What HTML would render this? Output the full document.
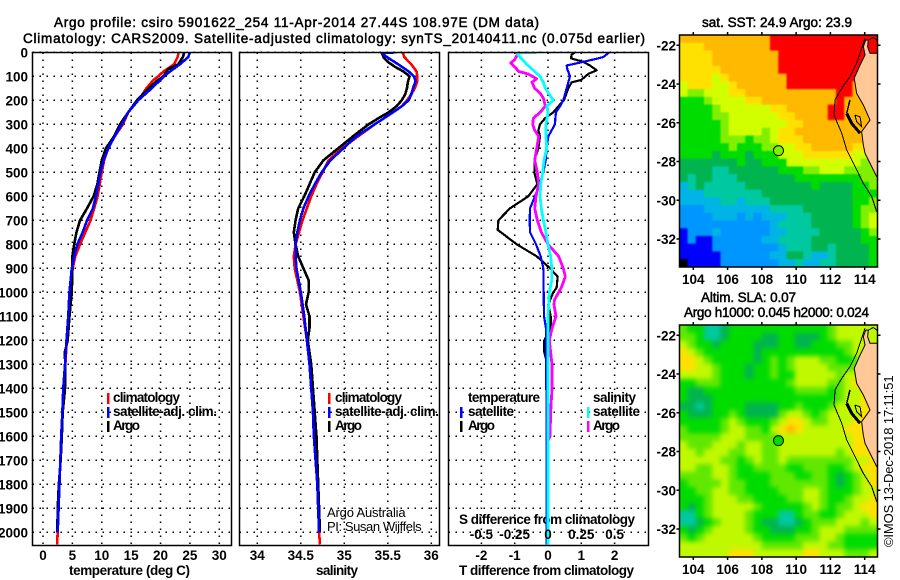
<!DOCTYPE html>
<html lang="en">
<head>
<meta charset="utf-8">
<title>Argo profile csiro 5901622_254</title>
<style>
html,body{margin:0;padding:0;background:#fff;}
svg{display:block;}
text{font-family:"Liberation Sans",sans-serif;fill:#000;}
.t{font-size:13.5px;font-weight:400;stroke:#000;stroke-width:.5px;}
.b{font-size:13.5px;font-weight:700;}
.thin{font-size:13px;font-weight:400;letter-spacing:.4px;}
</style>
</head>
<body>
<svg id="chart" xmlns="http://www.w3.org/2000/svg" width="900" height="580" viewBox="0 0 900 580">
<defs>
<clipPath id="clip-temp"><rect x="32.5" y="52.5" width="199" height="493"/></clipPath>
<clipPath id="clip-sal"><rect x="239.5" y="52.5" width="200" height="493"/></clipPath>
<clipPath id="clip-diff"><rect x="448.5" y="52.5" width="200" height="493"/></clipPath>
<clipPath id="clip-map1"><rect x="679.5" y="35" width="198" height="232"/></clipPath>
<clipPath id="clip-map2"><rect x="679.5" y="325" width="198" height="232"/></clipPath>
<filter id="blur-sst" filterUnits="userSpaceOnUse" x="640" y="0" width="260" height="300" color-interpolation-filters="sRGB"><feGaussianBlur stdDeviation="0.8"/></filter>
<filter id="blur-sla" filterUnits="userSpaceOnUse" x="640" y="290" width="260" height="290" color-interpolation-filters="sRGB"><feGaussianBlur stdDeviation="2.5"/></filter>
</defs>
<rect x="0" y="0" width="900" height="580" fill="#fff"/>
<text class="t" x="54" y="27" textLength="485">Argo profile: csiro 5901622_254 11-Apr-2014 27.44S 108.97E (DM data)</text>
<text class="t" x="23" y="43" textLength="622">Climatology: CARS2009. Satellite-adjusted climatology: synTS_20140411.nc (0.075d earlier)</text>
<text class="t" x="702" y="27" textLength="150">sat. SST: 24.9 Argo: 23.9</text>
<text class="t" x="701" y="302" textLength="95">Altim. SLA: 0.07</text>
<text class="t" x="684" y="317" textLength="185">Argo h1000: 0.045 h2000: 0.024</text>
<text class="b" x="69" y="575" textLength="121">temperature (deg C)</text>
<text class="b" x="316" y="575" textLength="42">salinity</text>
<text class="b" x="459" y="575" textLength="175">T difference from climatology</text>
<text class="b" x="459" y="524" textLength="176">S difference from climatology</text>
<text class="thin" x="327" y="517" textLength="79">Argo Australia</text>
<text class="thin" x="327" y="531" textLength="95">PI: Susan Wijffels</text>
<text class="thin" transform="translate(893,547) rotate(-90)" textLength="172">©IMOS 13-Dec-2018 17:11:51</text>
<g id="layer-maps"></g>
<g id="layer-panels"></g>
<g id="layer-legend"></g>
</svg>
<script>
// ---- profile data -------------------------------------------------------
const depthTicks = [0,100,200,300,400,500,600,700,800,900,1000,1100,1200,1300,1400,1500,1600,1700,1800,1900,2000];
const tempTicks = [0,5,10,15,20,25,30];
const salTicks = [34,34.5,35,35.5,36];
const salTickLabels = ['34','34.5','35','35.5','36'];
const diffTTicks = [-2,-1,0,1,2];
const diffSTicks = [-0.5,-0.25,0,0.25,0.5];
const diffSTickLabels = ['-0.5','-0.25','0','0.25','0.5'];

const tempClimDepth = [0,20,50,80,100,115,150,200,250,300,350,400,450,500,600,650,700,750,800,850,900,1000,1100,1200,1300,1400,1500,1600,1700,1800,1900,2000,2050];
const tempClim = [23.1,22.9,22.3,20.5,19.6,18.8,17.6,16.2,14.5,13.6,12.2,11.1,10.4,10,9.3,8.7,8.1,7.2,6.3,5.5,5.05,4.6,4.3,4.05,3.8,3.45,3.3,3.15,2.95,2.8,2.65,2.5,2.4];
const tempSatDepth = [0,20,50,80,100,150,200,250,300,350,400,450,500,600,650,700,750,800,850,900,1000,1100,1200,1300,1400,1500,1600,1700,1800,1900,2000];
const tempSat = [25,24.7,23.3,21.6,20.6,18.5,16.2,14.5,13.4,12.2,11.1,10.3,9.8,9,8.5,7.5,6.75,5.85,5.3,4.9,4.5,4.3,4,3.75,3.45,3.3,3.1,2.95,2.8,2.65,2.5];
const tempArgoDepth = [0,20,50,70,100,120,150,200,250,300,350,400,450,500,550,600,650,700,750,800,850,900,1000,1100,1200,1250,1300,1400,1500,1600,1700,1800,1900,2000];
const tempArgo = [24.05,23.8,23,21.3,20.5,19.3,18,16,14.5,13.1,12.1,10.7,10,9.6,9.25,8.6,7.5,6.3,5.7,5.3,5,5,4.9,4.5,4.2,3.7,3.8,3.75,3.35,3.2,3,2.7,2.5,2.45];

const salClimDepth = [0,20,50,80,100,120,150,175,200,225,250,300,350,400,450,500,550,600,650,700,750,800,850,900,1000,1100,1200,1300,1400,1500,1600,1700,1800,1900,2000,2050];
const salClim = [35.67,35.69,35.77,35.83,35.84,35.84,35.81,35.77,35.72,35.66,35.56,35.35,35.16,34.97,34.82,34.75,34.68,34.62,34.57,34.52,34.48,34.44,34.42,34.43,34.49,34.53,34.57,34.6,34.62,34.64,34.65,34.67,34.69,34.7,34.71,34.72];
const salSatDepth = [0,3,20,50,80,100,120,150,175,200,225,250,300,350,400,450,500,550,600,650,700,750,800,850,900,1000,1100,1200,1300,1400,1500,1600,1700,1800,1900,2000];
const salSat = [35.6,35.43,35.49,35.62,35.74,35.8,35.82,35.79,35.77,35.74,35.66,35.56,35.35,35.14,34.99,34.84,34.74,34.66,34.59,34.53,34.49,34.46,34.44,34.44,34.45,34.5,34.54,34.57,34.6,34.62,34.64,34.65,34.67,34.69,34.7,34.71];
const salArgoDepth = [0,20,40,60,80,100,125,150,175,200,225,250,275,300,350,400,450,500,550,600,650,700,750,800,850,900,950,1000,1050,1100,1150,1200,1300,1400,1500,1600,1700,1800,1900,2000];
const salArgo = [35.43,35.45,35.5,35.58,35.68,35.75,35.73,35.72,35.7,35.66,35.6,35.51,35.39,35.28,35.1,34.93,34.76,34.66,34.6,34.54,34.47,34.44,34.42,34.44,34.47,34.53,34.59,34.59,34.56,34.6,34.6,34.58,34.62,34.64,34.66,34.68,34.69,34.7,34.71,34.72];

const diffTSatDepth = [0,20,40,55,70,100,125,150,200,225,250,275,300,325,350,400,450,500,550,600,650,700,750,800,850,900,1000,1100,1150,1300,1500,2050];
const diffTSat = [1.84,1.66,1.06,.56,.58,.66,.61,.56,.46,.36,.24,.22,.21,.11,.01,-.04,-.07,-.14,-.26,-.39,-.54,-.55,-.54,-.36,-.22,-.14,-.13,-.12,-.06,-.06,-.04,-.04];
const diffTArgoDepth = [0,10,25,40,55,75,90,115,125,150,200,225,250,275,300,325,350,400,450,500,550,600,650,700,740,800,850,900,935,980,1000,1050,1100,1150,1200,1250,1300,1400,1500,1600,2000];
const diffTArgo = [.81,.71,.69,1.06,1.26,1.46,1.21,1,.71,.61,.48,.31,.16,-.09,-.24,-.29,-.24,-.29,-.41,-.41,-.32,-.59,-1.14,-1.49,-1.51,-.94,-.34,.06,.29,.26,.16,.01,.08,.08,-.11,-.11,-.02,.01,.01,-.03,-.03];
const diffSArgoDepth = [0,20,30,45,60,80,90,110,125,150,170,190,225,250,275,300,325,350,400,450,500,550,600,650,700,750,800,850,900,935,980,1030,1050,1100,1150,1200,1300,1400,1500,1600,1620];
const diffSArgo = [-.22,-.24,-.25,-.28,-.25,-.22,-.15,-.085,-.12,-.1,-.06,-.035,-.02,-.06,-.11,-.115,-.1,-.07,-.085,-.1,-.08,-.07,-.09,-.1,-.08,-.05,0,.08,.115,.13,.1,.05,.045,.06,.03,.01,.03,.03,.02,.015,0];
const diffSSatDepth = [0,3,20,50,100,125,150,200,225,250,300,350,400,450,500,550,600,650,700,750,800,850,900,950,1000,1100,1200,2050];
const diffSSat = [-.08,-.235,-.21,-.16,-.06,-.035,-.02,.04,-.01,0,-.015,-.015,-.01,-.03,-.04,-.055,-.06,-.05,-.035,-.015,0,.02,.028,.028,.01,0,0,0];

// ---- map data: colour level of each grid cell, north to south, west to east
const mapLonTicks = [104,106,108,110,112,114];
const mapLatTicks = [-22,-24,-26,-28,-30,-32];
const sstLevels = [
[10,10,10,10,10,10,10,10,10,10,10,11,11,11,11,11,11,11,11,11,11,11,11,11],
[9,9,9,10,10,10,10,10,10,10,10,11,11,11,11,11,11,11,11,11,11,11,11,11],
[9,9,9,9,10,10,10,10,10,10,10,10,11,11,11,11,11,11,11,11,11,11,11,11],
[9,9,9,9,10,10,10,10,10,10,10,10,11,11,11,11,11,11,11,11,11,11,11,11],
[9,9,9,9,9,10,10,10,10,10,10,10,11,11,11,11,11,11,11,11,11,11,11,11],
[9,9,9,9,8,9,10,10,10,10,10,10,10,11,11,11,11,11,11,11,11,11,11,11],
[8,9,9,9,8,8,9,10,10,10,10,10,10,11,11,11,11,11,11,11,11,10,10,10],
[8,7,7,8,8,8,9,9,10,10,10,10,10,10,10,10,10,10,10,11,11,10,10,10],
[6,6,6,7,8,8,8,8,9,9,10,10,10,10,10,10,10,10,10,11,10,10,10,10],
[6,6,6,6,7,8,8,8,8,8,8,9,9,10,10,10,10,10,11,11,10,10,10,10],
[6,6,6,6,7,7,8,8,8,8,8,8,9,9,10,10,10,10,11,11,10,10,10,10],
[6,6,6,6,6,7,8,8,8,8,8,8,8,9,9,10,10,10,10,10,10,10,10,10],
[6,6,6,6,6,7,8,8,8,8,7,8,9,9,10,10,10,10,10,10,10,10,10,10],
[6,6,6,6,6,7,7,7,6,7,7,8,9,9,9,10,10,10,10,10,10,10,10,10],
[6,6,6,6,6,6,7,6,6,6,7,7,8,8,9,9,10,10,10,10,10,9,9,9],
[6,6,6,6,5,6,6,6,5,6,6,6,8,8,8,9,9,9,9,9,9,8,8,8],
[5,5,5,5,5,5,5,6,5,5,6,6,6,8,8,8,8,8,8,8,8,8,7,7],
[5,5,5,5,4,4,5,5,5,5,5,5,6,6,6,7,7,8,8,8,7,7,7,7],
[5,4,5,5,4,4,4,5,5,5,5,5,5,5,6,6,6,6,6,6,6,6,7,7],
[3,4,5,4,4,4,4,4,5,5,5,5,5,5,5,5,6,5,5,5,5,6,6,7],
[3,3,3,4,4,4,4,4,4,4,5,5,5,5,5,5,5,5,5,5,5,6,6,6],
[3,3,3,3,3,4,4,3,4,4,4,5,5,5,5,5,5,5,5,5,5,6,6,7],
[2,2,2,3,3,3,3,3,3,3,3,4,4,4,4,5,5,5,5,5,5,6,7,7],
[2,2,2,2,3,3,3,2,3,2,3,3,3,4,4,4,5,5,5,5,5,6,7,8],
[2,2,2,2,2,2,2,2,2,2,2,3,4,4,4,4,5,5,5,5,5,6,7,8],
[1,2,2,2,3,2,2,2,2,2,2,3,3,4,4,4,4,5,5,5,5,5,6,7],
[1,2,1,1,2,2,2,2,2,2,3,3,4,4,4,4,5,5,5,5,5,5,6,6],
[1,1,1,1,2,2,2,2,2,2,2,2,3,4,4,4,5,5,4,5,5,5,5,6],
[1,1,1,1,1,2,2,2,2,2,2,3,3,5,5,4,3,3,4,5,5,5,5,6],
[0,1,1,1,1,2,2,2,2,2,2,2,3,3,4,3,3,4,4,5,5,5,5,6]
];
const slaLevels = [
[7,6,6,4,4,5,6,6,6,6,6,6,6,6,6,6,6,6,7,8,8,8,8,8],
[7,7,6,4,4,5,6,6,6,6,5,5,6,6,5,5,5,6,7,8,8,8,8,8],
[8,7,6,6,5,6,6,6,6,5,5,5,6,6,5,5,6,6,6,7,7,8,8,8],
[9,8,7,6,6,6,6,6,6,5,6,6,6,6,6,6,6,6,6,6,7,8,8,8],
[9,9,8,7,6,6,6,6,6,5,6,7,6,7,8,8,8,7,7,6,6,7,8,8],
[9,9,8,8,7,6,6,6,5,6,6,7,6,7,8,8,8,8,7,7,7,7,8,8],
[8,8,8,8,7,6,6,6,5,6,6,7,6,6,8,8,8,8,8,7,8,8,8,8],
[6,6,7,7,7,6,6,6,6,6,6,6,6,7,8,8,8,8,7,7,8,9,9,9],
[6,5,5,6,6,6,6,6,6,6,6,6,6,6,7,7,7,7,6,7,8,8,9,9],
[6,5,5,5,6,6,6,6,6,6,6,6,6,6,6,6,6,6,6,7,8,8,9,9],
[5,5,4,5,6,6,6,6,5,5,5,5,6,6,7,6,6,6,7,8,8,8,9,9],
[6,5,5,5,6,6,7,6,5,5,5,5,7,8,8,7,6,7,8,8,8,8,9,9],
[6,6,6,6,6,7,8,7,6,6,6,7,8,9,9,8,7,7,8,8,8,9,9,9],
[7,6,6,6,6,7,8,8,7,7,6,8,9,10,9,8,8,8,8,8,9,9,9,9],
[7,7,7,7,7,8,8,8,7,7,7,7,8,8,8,8,8,8,8,8,8,9,9,9],
[8,7,7,7,8,8,8,7,8,8,7,7,8,8,8,8,8,8,8,8,8,9,9,9],
[8,8,7,8,8,8,7,7,8,8,7,7,8,8,8,8,8,8,8,7,8,9,9,9],
[8,8,8,8,8,7,7,6,7,8,7,7,8,7,7,7,7,7,7,7,7,8,8,9],
[8,8,7,7,8,8,7,6,6,7,7,7,7,6,6,7,7,7,6,6,7,8,9,9],
[7,7,7,7,8,8,7,6,6,6,6,7,7,7,6,6,7,7,6,5,6,7,8,9],
[6,7,7,7,7,8,7,7,6,6,6,7,7,7,7,7,7,7,6,5,6,7,8,9],
[6,6,7,7,8,8,7,7,6,6,6,6,7,7,7,8,8,7,6,6,6,7,8,8],
[6,6,6,7,8,8,8,7,7,6,6,6,6,7,7,8,8,7,6,6,7,8,8,9],
[6,5,6,7,8,8,8,8,8,7,6,6,6,6,6,7,8,7,6,7,7,8,9,9],
[4,4,6,7,8,8,8,8,7,6,6,6,4,4,6,7,7,6,6,7,8,8,8,9],
[4,4,5,6,7,8,8,8,7,6,5,5,4,4,5,6,7,7,7,8,8,8,7,8],
[6,5,6,7,8,8,8,8,7,6,6,5,5,5,6,6,7,8,8,8,7,7,7,7],
[7,6,7,8,8,8,8,8,8,7,6,6,6,6,7,7,7,8,8,7,6,6,6,6],
[8,8,8,8,8,8,8,8,8,8,7,7,7,7,7,8,8,8,7,7,6,6,6,6],
[8,8,8,8,8,8,9,9,9,8,8,8,8,8,8,9,9,8,8,8,7,7,7,8]
];
const landLon = [114.89,114.31,114.17,114.21,114.06,113.92,114.02,113.73,113.39,113.53,113.92,114.31,113.82,113.92,114.02,114.31,114.70,114.89];
const landLat = [-22.41,-22.41,-22.07,-21.73,-21.73,-22.07,-22.5,-23.02,-23.7,-24.48,-25.08,-25.86,-26.46,-27.15,-27.58,-28.09,-28.78,-28.95];
const isobathLon = [114.02,113.73,113.53,113.14,112.66,112.27,112.21,112.66,112.95,113.34,113.92,114.41,114.70];
const isobathLat = [-21.64,-22.41,-22.93,-23.62,-24.22,-24.82,-25.60,-26.54,-27.40,-28.09,-29.13,-29.81,-30.59];
const bayShoreLon = [112.95,113.24,113.73];
const bayShoreLat = [-25.51,-26.03,-26.54];
const bayLoopLon = [113.43,113.73,113.82,113.53,113.43];
const bayLoopLat = [-25.60,-25.69,-26.20,-25.94,-25.60];
const bayBarLon = [113.14,112.95];
const bayBarLat = [-24.82,-25.51];
const capeLon = [114.21,114.5,114.74];
const capeLat = [-21.73,-21.6,-21.75];
const floatLon = [108.97];
const floatLat = [-27.44];

// ---- axis functions -----------------------------------------------------
const depthY = d => 52.3 + d * 0.24;
const tempX = v => 43 + v * 5.877;
const salX = v => 257.3 + (v - 34) * 87;
const diffTX = v => 548 + v * 33.3;
const diffSX = v => 548 + v * 133.2;
const lonX = v => 693.3 + (v - 104) * 17.14;
const latY = (v, top) => top + 10.3 + (-22 - v) * 19.37;
const sstColours = ['#000000','#0000ff','#0096ff','#00b4e6','#00c8a0','#00b450','#00dc00','#80f000','#d2ff00','#ffe100','#ffb900','#ff0000'];
const slaColours = ['#000000','#0000ff','#0096ff','#00b4e6','#00c8a0','#00b450','#00dc00','#60e800','#c0f800','#ffe100','#ffb900','#ff0000'];
const NS = 'http://www.w3.org/2000/svg';

function make(tag, attrs, parent, text) {
  const el = document.createElementNS(NS, tag);
  Object.keys(attrs).forEach(k => el.setAttribute(k, attrs[k]));
  if (text !== undefined) el.textContent = text;
  parent.appendChild(el);
  return el;
}
function pathFrom(xs, ys) {
  return xs.map((x, i) => (i ? 'L' : 'M') + x.toFixed(2) + ' ' + ys[i].toFixed(2)).join('');
}

const panels = document.getElementById('layer-panels');
const maps = document.getElementById('layer-maps');
const legendLayer = document.getElementById('layer-legend');

function drawPanel(key, left, width, clipId, xFn, ticks, labels, tickLabelY) {
  const g = make('g', {}, panels);
  
  
  depthTicks.forEach(d => {
    const line = make('line', {x1:left, x2:left + width, y1:depthY(d), y2:depthY(d), stroke:'#000', 'stroke-width':1.5, 'stroke-dasharray':'1.5 5.5'}, g);
    
    
  });
  ticks.forEach((t, i) => {
    const line = make('line', {x1:xFn(t), x2:xFn(t), y1:52.5, y2:545.5, stroke:'#000', 'stroke-width':1.5, 'stroke-dasharray':'1.5 5.5'}, g);
    
    
    const label = make('text', {x:xFn(t), y:tickLabelY, 'text-anchor':'middle', class:'b'}, g, labels[i]);
    
    
  });
  return g;
}
function drawFrame(g, key, left, width) {
  const frame = make('rect', {x:left, y:52.5, width:width, height:493, fill:'none', stroke:'#000', 'stroke-width':1.5}, g);
  
  
}
function drawSeries(g, name, clipId, depths, values, xFn, colour, width) {
  const p = make('path', {d:pathFrom(values.map(xFn), depths.map(depthY)), fill:'none', stroke:colour, 'stroke-width':width, 'stroke-linejoin':'round', 'shape-rendering':'crispEdges', 'clip-path':'url(#' + clipId + ')'}, g);
  
  
}

// temperature panel
const tempG = drawPanel('temperature', 32.5, 199, 'clip-temp', tempX, tempTicks, tempTicks.map(String), 560);
drawSeries(tempG, 'temperature-climatology-line', 'clip-temp', tempClimDepth, tempClim, tempX, '#ff0000', 2.6);
drawSeries(tempG, 'temperature-argo-line', 'clip-temp', tempArgoDepth, tempArgo, tempX, '#000000', 2.6);
drawSeries(tempG, 'temperature-satellite-line', 'clip-temp', tempSatDepth, tempSat, tempX, '#0000ff', 2.6);
drawFrame(tempG, 'temperature', 32.5, 199);
depthTicks.forEach(d => {
  const label = make('text', {x:28, y:depthY(d) + 5, 'text-anchor':'end', class:'b'}, tempG, String(d));
  
  
});

// salinity panel
const salG = drawPanel('salinity', 239.5, 200, 'clip-sal', salX, salTicks, salTickLabels, 560);
drawSeries(salG, 'salinity-climatology-line', 'clip-sal', salClimDepth, salClim, salX, '#ff0000', 2.6);
drawSeries(salG, 'salinity-argo-line', 'clip-sal', salArgoDepth, salArgo, salX, '#000000', 2.6);
drawSeries(salG, 'salinity-satellite-line', 'clip-sal', salSatDepth, salSat, salX, '#0000ff', 2.6);
drawFrame(salG, 'salinity', 239.5, 200);

// difference panel
const diffG = drawPanel('difference', 448.5, 200, 'clip-diff', diffTX, diffTTicks, diffTTicks.map(String), 560);
drawSeries(diffG, 'difference-temperature-argo-line', 'clip-diff', diffTArgoDepth, diffTArgo, diffTX, '#000000', 2.2);
drawSeries(diffG, 'difference-temperature-satellite-line', 'clip-diff', diffTSatDepth, diffTSat, diffTX, '#0000ff', 2.2);
drawSeries(diffG, 'difference-salinity-argo-line', 'clip-diff', diffSArgoDepth, diffSArgo, diffSX, '#ff00ff', 2.8);
drawSeries(diffG, 'difference-salinity-satellite-line', 'clip-diff', diffSSatDepth, diffSSat, diffSX, '#00ffff', 2.8);
drawFrame(diffG, 'difference', 448.5, 200);
diffSTicks.forEach((t, i) => {
  const label = make('text', {x:diffSX(t), y:539, 'text-anchor':'middle', class:'b'}, diffG, diffSTickLabels[i]);
  
  
});

// legends
const legendItems = [
  ['legend-temperature-climatology', 108, 113, 402, 'climatology', '#ff0000', 67],
  ['legend-temperature-satellite', 108, 113, 416, 'satellite-adj. clim.', '#0000ff', 104],
  ['legend-temperature-argo', 108, 113, 430, 'Argo', '#000000', 27],
  ['legend-salinity-climatology', 329, 335, 402, 'climatology', '#ff0000', 67],
  ['legend-salinity-satellite', 329, 335, 416, 'satellite-adj. clim.', '#0000ff', 104],
  ['legend-salinity-argo', 329, 335, 430, 'Argo', '#000000', 27],
  ['legend-difference-t-satellite', 461, 468, 416, 'satellite', '#0000ff', 46],
  ['legend-difference-t-argo', 461, 468, 430, 'Argo', '#000000', 27],
  ['legend-difference-s-satellite', 588, 593, 416, 'satellite', '#00ffff', 47],
  ['legend-difference-s-argo', 588, 593, 430, 'Argo', '#ff00ff', 27]
];
legendItems.forEach(item => {
  const mark = make('rect', {x:item[1] - 1, y:item[3] - 9, width:2.5, height:11, fill:item[5]}, legendLayer);
  
  
  const label = make('text', {x:item[2], y:item[3], class:'b', textLength:item[6]}, legendLayer, item[4]);
  
  
});
const legendHeadT = make('text', {x:468, y:402, class:'b', textLength:72}, legendLayer, 'temperature');


const legendHeadS = make('text', {x:593, y:402, class:'b', textLength:43}, legendLayer, 'salinity');



// maps
function drawLine(g, name, lons, lats, top, width) {
  const p = make('path', {d:pathFrom(lons.map(lonX), lats.map(v => latY(v, top))), fill:'none', stroke:'#000', 'stroke-width':width, 'shape-rendering':'crispEdges'}, g);
  
  
}
function drawMap(key, top, clipId, filterId, levels, colours, floatLevel) {
  const g = make('g', {'clip-path':'url(#' + clipId + ')'}, maps);
  
  
  const field = make('g', {filter:'url(#' + filterId + ')'}, g);
  
  
  const lonStart = 103.18, lonStep = 0.4813, latStart = -21.47, latStep = 0.399;
  levels.forEach((row, r) => {
    row.forEach((level, c) => {
      let x0 = lonX(lonStart + c * lonStep), x1 = lonX(lonStart + (c + 1) * lonStep);
      let y0 = latY(latStart - r * latStep, top), y1 = latY(latStart - (r + 1) * latStep, top);
      if (c === 0) x0 -= 12;
      if (c === row.length - 1) x1 += 12;
      if (r === 0) y0 -= 12;
      if (r === levels.length - 1) y1 += 12;
      const cell = make('rect', {x:x0, y:y0, width:x1 - x0 + 0.4, height:y1 - y0 + 0.4, fill:colours[level]}, field);
      
      
    });
  });
  const land = make('path', {d:pathFrom(landLon.map(lonX), landLat.map(v => latY(v, top))) + 'Z', fill:'#ffc896', stroke:'#000', 'stroke-width':1}, g);
  
  
  drawLine(g, key + '-isobath', isobathLon, isobathLat, top, 1);
  drawLine(g, key + '-shark-bay-shore', bayShoreLon, bayShoreLat, top, 3);
  drawLine(g, key + '-shark-bay-loop', bayLoopLon, bayLoopLat, top, 1);
  drawLine(g, key + '-coast-bar', bayBarLon, bayBarLat, top, 1.5);
  drawLine(g, key + '-north-west-cape', capeLon, capeLat, top, 1);
  floatLon.forEach((lon, i) => {
    const marker = make('circle', {cx:lonX(lon), cy:latY(floatLat[i], top), r:5, fill:colours[floatLevel], stroke:'#000', 'stroke-width':1}, g);
    
    
  });
  const frame = make('rect', {x:679.5, y:top, width:198, height:232, fill:'none', stroke:'#000', 'stroke-width':1.5}, maps);
  
  
  mapLonTicks.forEach(lon => {
    const tick = make('line', {x1:lonX(lon), x2:lonX(lon), y1:top - 3, y2:top + 235, stroke:'#000', 'stroke-width':1.5, 'stroke-dasharray':'3 232'}, maps);
    
    
    const label = make('text', {x:lonX(lon), y:top + 249, 'text-anchor':'middle', class:'b'}, maps, String(lon));
    
    
  });
  mapLatTicks.forEach(lat => {
    const tick = make('line', {x1:676.5, x2:880.5, y1:latY(lat, top), y2:latY(lat, top), stroke:'#000', 'stroke-width':1.5, 'stroke-dasharray':'3 198'}, maps);
    
    
    const label = make('text', {x:676, y:latY(lat, top) + 5, 'text-anchor':'end', class:'b'}, maps, String(lat));
    
    
  });
}
drawMap('sst', 35, 'clip-map1', 'blur-sst', sstLevels, sstColours, 7);
drawMap('sla', 325, 'clip-map2', 'blur-sla', slaLevels, slaColours, 6);
</script>
</body>
</html>
